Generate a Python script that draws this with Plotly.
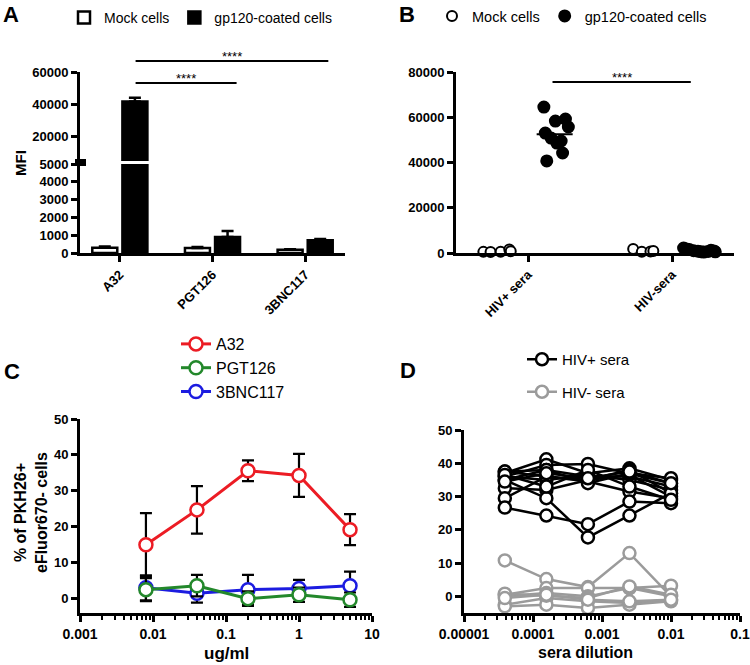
import plotly.graph_objects as go

# ---------- data ----------
# A: MFI bars
a_cats = ["A32", "PGT126", "3BNC117"]
a_mock = [300, 280, 180]
a_mock_err = [60, 60, 30]
a_gp120 = [41800, 900, 720]
a_gp120_err = [2300, 340, 60]

# B: scatter per serum (x offset within category, value)
b_pos_mock_off = [-0.31, -0.26, -0.19, -0.13, -0.12]
b_pos_mock = [500, 400, 600, 1500, 800]
b_pos_gp_off = [0.11, 0.19, 0.26, 0.28, 0.12, 0.16, 0.23, 0.20, 0.24, 0.13]
b_pos_gp = [64500, 58300, 59200, 55700, 53000, 50800, 49500, 48600, 44200, 40700]
b_neg_mock_off = [-0.27, -0.21, -0.15, -0.13]
b_neg_mock = [1800, 500, 700, 900]
b_neg_gp_off = [0.08, 0.10, 0.12, 0.15, 0.18, 0.20, 0.22, 0.25, 0.27, 0.29, 0.30]
b_neg_gp = [2200, 1800, 1500, 1000, 800, 600, 400, 700, 1200, 900, 500]

# C: dose response
c_conc = [0.008, 0.04, 0.2, 1, 5]
c_a32 = [15.0, 24.7, 35.6, 34.3, 19.2]
c_a32_err = [8.8, 6.6, 2.9, 6.0, 4.3]
c_pgt = [2.5, 3.6, 0.0, 1.1, -0.3]
c_pgt_err = [3.2, 3.0, 2.0, 2.0, 2.0]
c_bnc = [3.0, 1.5, 2.5, 2.8, 3.6]
c_bnc_err = [3.5, 2.6, 4.1, 2.4, 3.9]

# D: sera dilution curves
d_dil = [1 / 25600, 1 / 6400, 1 / 1600, 1 / 400, 1 / 100]
d_pos = [
    [37.0, 41.2, 37.0, 38.5, 35.0],
    [36.0, 39.5, 39.8, 37.0, 34.0],
    [35.0, 38.0, 36.0, 36.0, 33.0],
    [37.5, 36.0, 35.0, 38.0, 31.0],
    [36.0, 35.0, 36.5, 35.0, 32.0],
    [32.5, 32.0, 35.0, 36.5, 30.0],
    [29.5, 36.0, 34.5, 31.5, 29.5],
    [26.7, 24.3, 21.7, 28.5, 28.0],
    [35.0, 29.5, 17.7, 24.3, 31.0],
    [37.5, 38.0, 34.0, 37.0, 35.5],
    [36.5, 33.0, 38.0, 33.0, 29.0],
    [34.5, 37.0, 35.5, 37.5, 34.0],
]
d_neg = [
    [10.8, 5.2, 2.8, 13.0, 0.0],
    [0.5, 2.5, 2.5, 2.5, 3.2],
    [0.0, 1.0, 0.0, 2.5, 0.0],
    [-2.5, -0.5, -1.5, -2.0, -1.0],
    [-3.0, -2.5, -3.5, -2.5, -1.5],
    [0.8, 0.2, -0.5, 3.0, 0.5],
    [-0.5, 0.5, -1.0, -1.5, -1.0],
]

FONT = "Liberation Sans"
W, H = 750, 665


def px(x):
    return x / W


def py(y):
    return 1 - y / H


tick_font = dict(family=FONT, size=13, color="black", weight="bold")
axis_common = dict(showline=True, linecolor="black", linewidth=3, ticks="outside",
                   ticklen=6, tickwidth=3, tickcolor="black", showgrid=False,
                   zeroline=False, tickfont=tick_font, automargin=False, tickformat="d")

fig = go.Figure()

# ---------- A ----------
for ax_y, show in (("y", True), ("y2", False)):
    fig.add_trace(go.Bar(
        x=[0, 1, 2], y=a_mock, name="Mock cells", xaxis="x", yaxis=ax_y,
        marker=dict(color="white", line=dict(color="black", width=2.5)),
        error_y=dict(type="data", array=a_mock_err, arrayminus=[0] * 3, symmetric=False,
                     color="black", thickness=2.5, width=6),
        showlegend=show, legend="legend"))
    fig.add_trace(go.Bar(
        x=[0, 1, 2], y=a_gp120, name="gp120-coated cells", xaxis="x", yaxis=ax_y,
        marker=dict(color="black", line=dict(color="black", width=2.5)),
        error_y=dict(type="data", array=a_gp120_err, arrayminus=[0] * 3, symmetric=False,
                     color="black", thickness=2.5, width=6),
        showlegend=show, legend="legend"))

# ---------- B ----------
def bscatter(base, offs, vals, filled, name, show):
    fig.add_trace(go.Scatter(
        x=[base + o for o in offs], y=vals, mode="markers", name=name,
        xaxis="x2", yaxis="y3", cliponaxis=False, showlegend=show, legend="legend2",
        marker=dict(size=11 if filled else 10, symbol="circle",
                    color="black" if filled else "white",
                    line=dict(color="black", width=2))))


bscatter(0, b_pos_mock_off, b_pos_mock, False, "Mock cells", True)
bscatter(0, b_pos_gp_off, b_pos_gp, True, "gp120-coated cells", True)
bscatter(1, b_neg_mock_off, b_neg_mock, False, "Mock cells", False)
bscatter(1, b_neg_gp_off, b_neg_gp, True, "gp120-coated cells", False)
b_mean = sum(b_pos_gp) / len(b_pos_gp)
fig.add_trace(go.Scatter(x=[0.06, 0.31], y=[b_mean, b_mean], mode="lines",
                         line=dict(color="black", width=2), xaxis="x2", yaxis="y3",
                         showlegend=False))

# ---------- C ----------
c_series = [("3BNC117", c_bnc, c_bnc_err, "#1c1ce0", 3),
            ("PGT126", c_pgt, c_pgt_err, "#23882b", 2),
            ("A32", c_a32, c_a32_err, "#ec1c24", 1)]
for name, vals, err, col, rank in c_series:
    fig.add_trace(go.Scatter(
        x=c_conc, y=vals, name=name, mode="lines+markers", xaxis="x3", yaxis="y4",
        legend="legend3", legendrank=rank, cliponaxis=False,
        line=dict(color=col, width=3),
        marker=dict(size=13, color="white", line=dict(color=col, width=2.5)),
        error_y=dict(type="data", array=err, color="black", thickness=2.2, width=6)))

# ---------- D ----------
for i, vals in enumerate(d_pos):
    fig.add_trace(go.Scatter(
        x=d_dil, y=vals, name="HIV+ sera", mode="lines+markers", xaxis="x4", yaxis="y5",
        legend="legend4", legendgroup="pos", showlegend=(i == 0), cliponaxis=False,
        line=dict(color="black", width=2.5),
        marker=dict(size=12, color="white", line=dict(color="black", width=2.5))))
for i, vals in enumerate(d_neg):
    fig.add_trace(go.Scatter(
        x=d_dil, y=vals, name="HIV- sera", mode="lines+markers", xaxis="x4", yaxis="y5",
        legend="legend4", legendgroup="neg", showlegend=(i == 0), cliponaxis=False,
        line=dict(color="#9b9b9b", width=2.5),
        marker=dict(size=12, color="white", line=dict(color="#9b9b9b", width=2.5))))


def log_minor(lo, hi):
    vals = []
    for d in range(lo, hi):
        vals += [k * 10 ** d for k in range(2, 10)]
    return vals


fig.update_layout(
    width=W, height=H, margin=dict(l=0, r=0, t=0, b=0, autoexpand=False),
    plot_bgcolor="white", paper_bgcolor="white",
    font=dict(family=FONT, color="black"),
    barmode="group", bargap=0.35, bargroupgap=0.17,
    # A
    xaxis=dict(axis_common, domain=[px(80), px(345)], anchor="y", range=[-0.43, 2.43],
               tickmode="array", tickvals=[0, 1, 2], ticktext=a_cats, tickangle=-45),
    yaxis=dict(axis_common, domain=[py(253), py(164)], anchor="x", range=[0, 5000],
               tickmode="array", tickvals=[0, 1000, 2000, 3000, 4000, 5000]),
    yaxis2=dict(axis_common, domain=[py(161), py(72)], anchor="x", range=[5000, 60000],
                tickmode="array", tickvals=[20000, 40000, 60000]),
    # B
    xaxis2=dict(axis_common, domain=[px(456), px(734)], anchor="y3", range=[-0.5, 1.43],
                tickmode="array", tickvals=[0, 1], ticktext=["HIV+ sera", "HIV-sera"],
                tickangle=-45),
    yaxis3=dict(axis_common, domain=[py(253), py(72)], anchor="x2", range=[0, 80000],
                tickmode="array", tickvals=[0, 20000, 40000, 60000, 80000]),
    # C
    xaxis3=dict(axis_common, domain=[px(80), px(372)], anchor="y4", type="log", range=[-3, 1],
                tickmode="array", tickvals=[0.001, 0.01, 0.1, 1, 10],
                ticktext=["0.001", "0.01", "0.1", "1", "10"],
                tickfont=dict(tick_font, size=14),
                minor=dict(ticks="outside", ticklen=4, tickwidth=2, tickcolor="black",
                           tickmode="array", tickvals=log_minor(-3, 1))),
    yaxis4=dict(axis_common, domain=[py(613), py(419)], anchor="x3", range=[-4, 50],
                tickmode="array", tickvals=[0, 10, 20, 30, 40, 50]),
    # D
    xaxis4=dict(axis_common, domain=[px(464), px(740)], anchor="y5", type="log", range=[-5, -1],
                tickmode="array", tickvals=[1e-5, 1e-4, 1e-3, 1e-2, 1e-1],
                ticktext=["0.00001", "0.0001", "0.001", "0.01", "0.1"],
                tickfont=dict(tick_font, size=14),
                minor=dict(ticks="outside", ticklen=4, tickwidth=2, tickcolor="black",
                           tickmode="array", tickvals=log_minor(-5, -1))),
    yaxis5=dict(axis_common, domain=[py(613), py(430)], anchor="x4", range=[-5, 50],
                tickmode="array", tickvals=[0, 10, 20, 30, 40, 50]),
    legend=dict(orientation="h", x=px(64), y=py(2), xanchor="left", yanchor="top",
                font=dict(family=FONT, size=14), bgcolor="rgba(0,0,0,0)"),
    legend2=dict(orientation="h", x=px(432), y=py(0), xanchor="left", yanchor="top",
                 font=dict(family=FONT, size=14.5), bgcolor="rgba(0,0,0,0)"),
    legend3=dict(orientation="v", x=px(176), y=py(327), xanchor="left", yanchor="top",
                 font=dict(family=FONT, size=16), bgcolor="rgba(0,0,0,0)"),
    legend4=dict(orientation="v", x=px(522), y=py(343), xanchor="left", yanchor="top",
                 font=dict(family=FONT, size=15), bgcolor="rgba(0,0,0,0)"),
)


def label(text, x, y, size, bold=True, angle=0, xref="paper"):
    return dict(text=text, x=x if xref != "paper" else px(x), y=py(y), xref=xref,
                yref="paper", showarrow=False, xanchor="center", yanchor="middle",
                textangle=angle,
                font=dict(family=FONT, size=size, weight="bold" if bold else "normal"))


ann = []
for lab, x, y in (("A", 11, 15), ("B", 407, 15), ("C", 12, 372), ("D", 408, 370)):
    ann.append(label(lab, x, y, 22))
ann.append(label("MFI", 20, 163, 15, angle=-90))
ann.append(label("% of PKH26+<br>eFluor670- cells", 31, 513, 16, angle=-90))
ann.append(label("ug/ml", 226, 653, 17))
ann.append(label("sera dilution", 585, 652, 16))
# significance
for x0, x1, yl, xref in ((0.17, 2.25, 61, "x"), (0.17, 1.26, 83, "x"), (0.17, 1.13, 82, "x2")):
    fig.add_shape(type="line", x0=x0, x1=x1, y0=py(yl), y1=py(yl), xref=xref, yref="paper",
                  line=dict(color="black", width=2))
    ann.append(label("****", (x0 + x1) / 2, yl - 5, 13, bold=False, xref=xref))
# axis break marker for A
fig.add_shape(type="rect", x0=px(75), x1=px(86), y0=py(166), y1=py(159), xref="paper",
              yref="paper", fillcolor="black", line=dict(width=0))
fig.update_layout(annotations=ann)

# drop the browser's default 8px body margin so the figure sits at the window corner
fig.write_html("out.html", config={"displayModeBar": False},
               post_script="document.body.style.margin='0px';")
